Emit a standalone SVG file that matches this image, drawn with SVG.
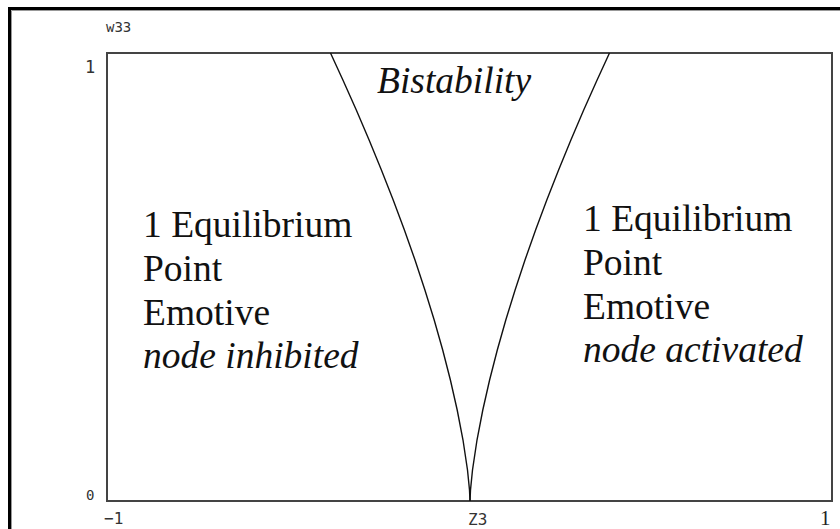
<svg xmlns="http://www.w3.org/2000/svg" width="840" height="529" viewBox="0 0 840 529">
  <style>
    .lbl { font-family: "Liberation Serif", "Times New Roman", serif; font-size: 37.5px; fill: #111; }
    .it { font-style: italic; }
    .ax { font-family: "DejaVu Sans Mono", "Liberation Mono", monospace; font-size: 14px; fill: #333; }
    .curve { fill: none; stroke: #111; stroke-width: 1.4; }
  </style>
  <rect width="840" height="529" fill="#ffffff"/>
  <g id="frame">
    <path d="M9.5 529 V8.5 H840" fill="none" stroke="#000" stroke-width="3"/>
    <path d="M11.5 529 V10.5 H840" fill="none" stroke="#999" stroke-width="1"/>
  </g>
  <g id="plot-box">
    <rect x="107" y="53" width="725" height="448" fill="none" stroke="#444" stroke-width="2"/>
  </g>
  <g id="axis-labels" class="ax">
    <text x="106" y="32">w33</text>
    <text x="85" y="73" style="font-size:17px">1</text>
    <text x="86" y="500">0</text>
    <text x="104" y="524" style="font-size:16px">−1</text>
    <text x="468" y="525" style="font-size:16px">Z3</text>
    <text x="820" y="525" style="font-family:'Liberation Serif',serif;font-size:21px;fill:#222">1</text>
  </g>
  <g id="connectors">
    <polyline class="curve" points="330.5,53 342.9,80 356.3,110 369.1,140 381.4,170 393.2,200 404.4,230 415,260 424.9,290 434.2,320 442.7,350 450.4,380 457.2,410 463,440 467.5,470 469.5,490 470,501"/>
    <polyline class="curve" points="609.5,53 597.1,80 583.7,110 570.9,140 558.6,170 546.8,200 535.6,230 525,260 515.1,290 505.8,320 497.3,350 489.6,380 482.8,410 477,440 472.5,470 470.5,490 470,501"/>
  </g>
  <g id="bistability">
    <text class="lbl it" x="377" y="93">Bistability</text>
  </g>
  <g id="left-region">
    <text class="lbl" x="143" y="237">1 Equilibrium</text>
    <text class="lbl" x="143" y="281">Point</text>
    <text class="lbl" x="143" y="325">Emotive</text>
    <text class="lbl it" x="143" y="368">node inhibited</text>
  </g>
  <g id="right-region">
    <text class="lbl" x="583" y="231">1 Equilibrium</text>
    <text class="lbl" x="583" y="275">Point</text>
    <text class="lbl" x="583" y="319">Emotive</text>
    <text class="lbl it" x="583" y="362">node activated</text>
  </g>
</svg>
